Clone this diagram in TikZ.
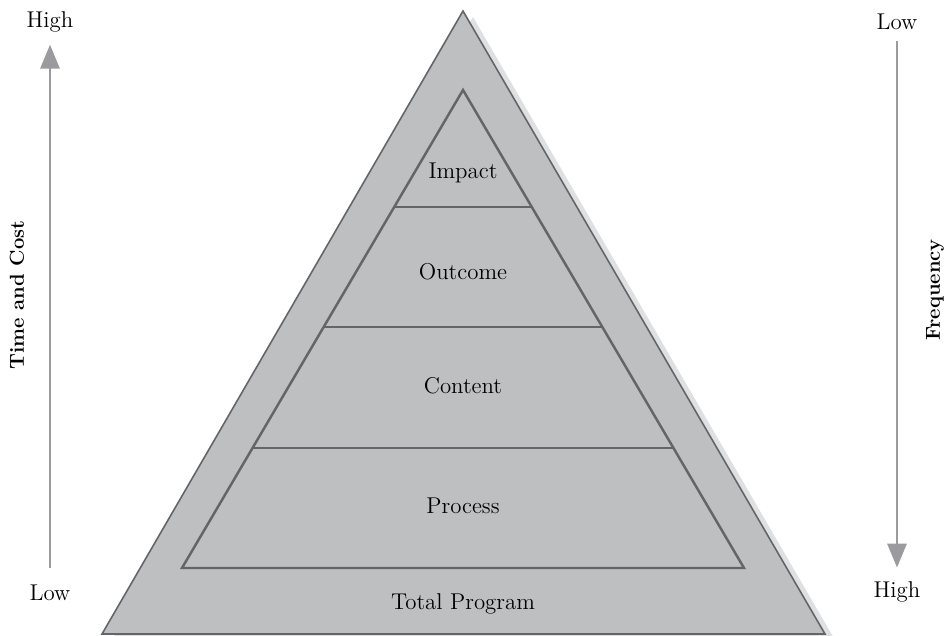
\documentclass[tikz,border=0pt]{standalone}
\usetikzlibrary{arrows.meta,positioning,calc}
\definecolor{pirfill}{HTML}{BEBFC1}
\definecolor{pirline}{HTML}{646568}
\definecolor{pirshadow}{HTML}{DFE0E1}
\definecolor{ejegris}{HTML}{9B9B9F}
\tikzset{
  level/.style={font=\fontsize{13}{15}\selectfont,inner sep=1pt},
  axislabel/.style={font=\fontsize{13}{15}\selectfont},
  axistitle/.style={rotate=90,font=\fontsize{11.5}{14}\selectfont\bfseries},
  axisarrow/.style={-{Triangle[length=4.8mm,width=3.8mm]},line width=1.7pt,draw=ejegris},
  outer/.style={fill=pirfill,draw=pirline,line width=0.9pt,line join=miter},
  tier/.style={draw=pirline,line width=1.4pt}
}

\begin{document}
\begin{tikzpicture}[x=0.02cm,y=-0.02cm]
\useasboundingbox (0,0) rectangle (951,636);

\coordinate (top) at (463,11);
\coordinate (bl) at (102,634);
\coordinate (br) at (825,634);
\coordinate (in) at (463,90);
\coordinate (inl) at (182,568);
\coordinate (inr) at (744,568);

\fill[pirshadow] ([shift={(10,6)}]top)--([shift={(10,6)}]br)--([shift={(10,6)}]bl)--cycle;
\filldraw[outer] (top)--(br)--(bl)--cycle;
\draw[tier] (in)--(inr)--(inl)--cycle;
\foreach \t in {0.245,0.496,0.749}
  \draw[tier] ($(in)!\t!(inl)$)--($(in)!\t!(inr)$);

\node[level] (impact) at (463,173) {Impact};
\node[level] (outcome) at (463,272) {Outcome};
\node[level] (content) at (463,386) {Content};
\node[level] (process) at (463,506) {Process};
\node[level] (total) at (463,604) {Total Program};

\node[axislabel] (hiL) at (50,22) {High};
\node[axislabel] (loL) at (50,593) {Low};
\node[axislabel] (loR) at (897,22) {Low};
\node[axislabel] (hiR) at (897,592) {High};
\node[axistitle] (cost) at (17,295) {Time and Cost};
\node[axistitle] (freq) at (935,290) {Frequency};

\draw[axisarrow,shorten <=6pt,shorten >=3.5pt] (loL)--(hiL);
\draw[axisarrow,shorten <=3pt,shorten >=4.5pt] (loR)--(hiR);
\end{tikzpicture}
\end{document}
